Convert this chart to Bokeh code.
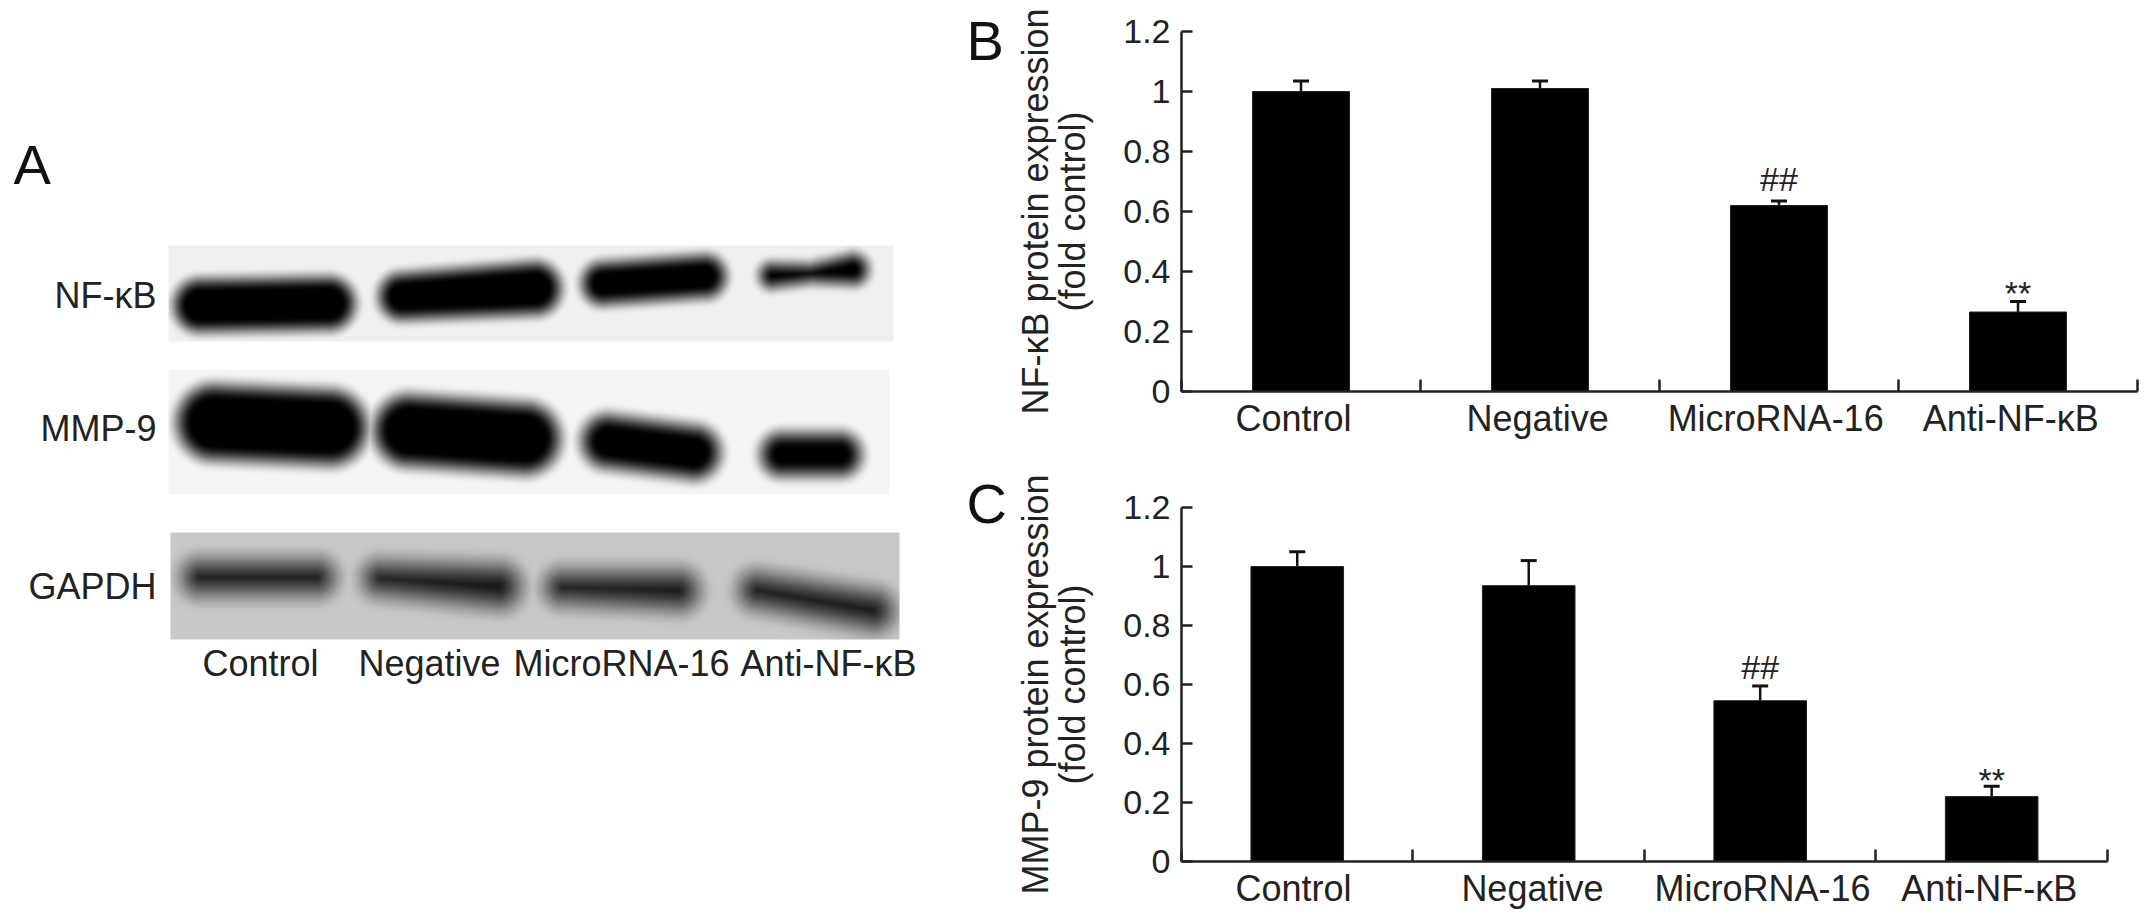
import numpy as np
from bokeh.embed import file_html
from bokeh.resources import INLINE
from bokeh.plotting import figure
from bokeh.layouts import row, column
from bokeh.models import Range1d, FixedTicker, ColumnDataSource, Whisker, TeeHead
from bokeh.core.properties import value

FONT = "Liberation Sans"
INK = "#222222"

categories = ["Control", "Negative", "MicroRNA-16", "Anti-NF-κB"]
y_ticks = [0, 0.2, 0.4, 0.6, 0.8, 1, 1.2]
y_tick_labels = ["0", "0.2", "0.4", "0.6", "0.8", "1", "1.2"]

nfkb_values = [1.0, 1.01, 0.62, 0.265]
nfkb_err_top = [1.035, 1.035, 0.635, 0.30]
mmp9_values = [1.0, 0.935, 0.545, 0.22]
mmp9_err_top = [1.05, 1.02, 0.595, 0.255]
marks = ["", "", "##", "**"]

blot_names = ["NF-κB", "MMP-9", "GAPDH"]
# panel: x0, x1, y0, y1 (page px), background grey, band grey, blur
blot_panels = [
    (168, 893, 245, 341, 240, 0, 12),
    (168, 889, 369, 494, 244, 0, 14),
    (170, 899, 532, 639, 200, 20, 22),
]
# bands: (x0, y0, r0, x1, y1, r1)
blot_bands = [
    [(200, 305, 25, 328, 303, 25), (402, 296, 22, 534, 288, 25), (603, 283, 20, 704, 276, 20),
     (772, 275, 11, 810, 273, 8), (810, 273, 8, 852, 269, 14)],
    [(214, 422, 36, 329, 427, 36), (409, 430, 34, 524, 438, 34), (608, 441, 25, 693, 452, 25),
     (782, 454, 20, 839, 454, 20)],
    [(200, 577, 14, 316, 577, 14), (380, 578, 13, 498, 586, 18), (562, 587, 13, 678, 590, 16),
     (757, 590, 14, 873, 610, 16)],
]
blot_label_y = [295, 428, 586]
blot_cat_x = [260, 429, 621, 828]


def blot_image(panel, bands):
    x0, x1, y0, y1, bg, ink, blur = panel
    xs, ys = np.meshgrid(np.arange(x0, x1) + 0.5, np.arange(y0, y1) + 0.5)
    a = np.zeros_like(xs)
    for bx0, by0, r0, bx1, by1, r1 in bands:
        dx, dy = bx1 - bx0, by1 - by0
        t = np.clip(((xs - bx0) * dx + (ys - by0) * dy) / (dx * dx + dy * dy), 0, 1)
        d = np.hypot(xs - bx0 - t * dx, ys - by0 - t * dy) - (r0 + t * (r1 - r0))
        s = np.clip(0.5 - d / (2 * blur), 0, 1)
        a = np.maximum(a, s * s * (3 - 2 * s))
    g = (bg * (1 - a) + ink * a).astype(np.uint32)[::-1]
    return np.full(g.shape, 0xFF000000, dtype=np.uint32) | g | (g << 8) | (g << 16)


# ---------- panel A: page-pixel canvas ----------
H = 922
pa = figure(width=1008, height=H, x_range=Range1d(0, 1008), y_range=Range1d(0, H),
            output_backend="svg", toolbar_location=None, min_border=0, outline_line_color=None)
pa.axis.visible = False
pa.grid.visible = False


def yy(py):
    return H - py


for panel, bands in zip(blot_panels, blot_bands):
    x0, x1, y0, y1, *_ = panel
    pa.image_rgba(image=[blot_image(panel, bands)], x=x0, y=yy(y1), dw=x1 - x0, dh=y1 - y0)

pa.text(x=[156] * 3, y=[yy(v) for v in blot_label_y], text=blot_names, text_font=value(FONT),
        text_font_size="36px", text_align="right", text_baseline="middle", text_color=INK)
pa.text(x=blot_cat_x, y=[yy(663)] * 4, text=categories, text_font=value(FONT),
        text_font_size="36px", text_align="center", text_baseline="middle", text_color=INK)
pa.text(x=[13, 966, 966], y=[yy(164), yy(40), yy(503)], text=["A", "B", "C"], text_font=value(FONT),
        text_font_size="56px", text_align="left", text_baseline="middle", text_color="#111111")


def bar_panel(vals, tops, ylabel, w, h, borders, x_end, bar_w, label_x, offs):
    left, right, top, bottom = borders
    p = figure(width=w, height=h, x_range=Range1d(0, x_end), y_range=Range1d(0, 1.2),
               output_backend="svg", toolbar_location=None, outline_line_color=None,
               min_border_left=left, min_border_right=right, min_border_top=top, min_border_bottom=bottom)
    p.grid.visible = False
    x = [0.5, 1.5, 2.5, 3.5]
    src = ColumnDataSource(dict(x=x, v=vals, t=tops))
    p.add_layout(Whisker(source=src, base="x", upper="t", lower="v", line_color="#111111", line_width=2.5,
                         upper_head=TeeHead(size=16, line_color="#111111", line_width=3), lower_head=None))
    p.vbar(x="x", top="v", width=bar_w, source=src, fill_color="black", line_color="#222222", line_width=1)

    p.xaxis.bounds = (0, 4)
    p.xaxis.ticker = FixedTicker(ticks=label_x, minor_ticks=[0, 1, 2, 3, 4])
    p.xaxis.major_label_overrides = dict(zip(label_x, categories))
    p.xaxis.major_tick_line_color = None
    p.xaxis.minor_tick_in = 12
    p.xaxis.minor_tick_out = 0
    p.xaxis.minor_tick_line_width = 2.5
    p.xaxis.minor_tick_line_color = INK
    p.xaxis.major_label_standoff = 0

    p.yaxis.ticker = FixedTicker(ticks=y_ticks, minor_ticks=[])
    p.yaxis.major_label_overrides = dict(zip(y_ticks, y_tick_labels))
    p.yaxis.major_tick_in = 11
    p.yaxis.major_tick_out = 0
    p.yaxis.major_tick_line_width = 2.5
    p.yaxis.major_tick_line_color = INK
    p.yaxis.major_label_standoff = 11
    p.yaxis.axis_label = ylabel
    p.yaxis.axis_label_standoff = 27
    p.yaxis.axis_label_text_font = FONT
    p.yaxis.axis_label_text_font_size = "36px"
    p.yaxis.axis_label_text_font_style = "normal"
    p.yaxis.axis_label_text_color = INK
    p.yaxis.axis_label_text_line_height = 0.92
    p.axis.axis_line_width = 2.5
    p.axis.axis_line_color = INK
    p.axis.major_label_text_font = FONT
    p.axis.major_label_text_font_size = "34px"
    p.xaxis.major_label_text_font_size = "36px"
    p.axis.major_label_text_color = INK

    for i, off in offs:
        p.text(x=[x[i]], y=[tops[i]], text=[marks[i]], y_offset=off, text_font=value(FONT),
               text_font_size="34px", text_align="center", text_baseline="middle", text_color=INK)
    return p


pb = bar_panel(nfkb_values, nfkb_err_top, "NF-κB protein expression\n(fold control)",
               1142, 464, (173, 13, 31, 73), 4.0, 0.406, [0.469, 1.49, 2.486, 3.47], [(2, -22), (3, -9)])
pc = bar_panel(mmp9_values, mmp9_err_top, "MMP-9 protein expression\n(fold control)",
               1142, 458, (173, 13, 43, 61), 4.13, 0.40, [0.484, 1.516, 2.51, 3.49], [(2, -19), (3, -6)])

page = row(pa, column(pb, pc, spacing=0), spacing=0)
open("out.html", "w").write(file_html(page, INLINE))
